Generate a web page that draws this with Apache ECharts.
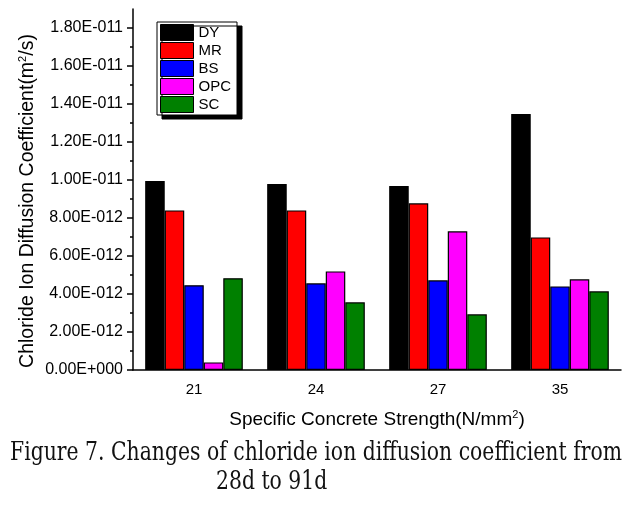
<!DOCTYPE html>
<html>
<head>
<meta charset="utf-8">
<script src="https://cdn.jsdelivr.net/npm/echarts@6/dist/echarts.min.js"></script>
<style>html,body{margin:0;padding:0;background:#fff}#c{width:632px;height:508px}</style>
</head>
<body>
<div id="c"></div>
<script>
// values in units of 1E-12 m^2/s
const categories = ['21', '24', '27', '35'];
const seriesNames = ['DY', 'MR', 'BS', 'OPC', 'SC'];
const DY  = [9.95, 9.79, 9.68, 13.47];
const MR  = [8.40, 8.40, 8.77, 6.98];
const BS  = [4.46, 4.56, 4.72, 4.40];
const OPC = [0.40, 5.19, 7.30, 4.77];
const SC  = [4.83, 3.56, 2.93, 4.14];
const yTickValues = [0, 2, 4, 6, 8, 10, 12, 14, 16, 18];
const colors = ['#000000', '#ff0000', '#0000ff', '#ff00ff', '#008000'];
const captionLines = ['Figure 7. Changes of chloride ion diffusion coefficient from', '28d to 91d'];

const SANS = '"Liberation Sans", Arial, sans-serif';

function fmtE(v) {
  if (v === 0) return '0.00E+000';
  const e = Math.floor(Math.log10(v) + 1e-9);
  const m = v / Math.pow(10, e);
  const ex = e - 12;
  const sign = ex < 0 ? '-' : '+';
  return m.toFixed(2) + 'E' + sign + String(Math.abs(ex)).padStart(3, '0');
}

const capFont = '26px "DejaVu Serif"';
const cv = document.createElement('canvas').getContext('2d');
cv.font = capFont;
const capScale = 612 / cv.measureText(captionLines[0]).width;

const chart = echarts.init(document.getElementById('c'), null, {renderer: 'canvas'});
const values = [DY, MR, BS, OPC, SC];
const option = {
  animation: false,
  backgroundColor: '#fff',
  textStyle: {fontFamily: SANS},
  grid: {left: 133, right: 11, top: 9, bottom: 138, containLabel: false},
  legend: {
    orient: 'vertical', left: 157, top: 22,
    itemWidth: 33, itemHeight: 16, itemGap: 1,
    padding: [2, 6, 2, 3],
    backgroundColor: '#fff', borderColor: '#000', borderWidth: 1, borderRadius: 0,
    shadowColor: '#000', shadowBlur: 0, shadowOffsetX: 5, shadowOffsetY: 4,
    textStyle: {fontSize: 15, lineHeight: 16, color: '#000', fontFamily: SANS, padding: [0, 0, 0, 0]},
    itemStyle: {borderColor: '#000', borderWidth: 1},
    icon: 'rect',
    data: seriesNames
  },
  xAxis: [{
    type: 'category', data: categories, position: 'bottom',
    axisLine: {lineStyle: {color: '#000', width: 1.5}},
    axisTick: {alignWithLabel: true, length: 6, lineStyle: {color: '#000', width: 1.5}},
    axisLabel: {fontSize: 15, color: '#000', margin: 12},
    name: '{a|Specific Concrete Strength(N/mm}{s|2}{a|)}',
    nameLocation: 'middle', nameGap: 39,
    nameTextStyle: {rich: {a: {fontSize: 19, color: '#000', fontFamily: SANS}, s: {fontSize: 11, color: '#000', fontFamily: SANS, verticalAlign: 'top', padding: [0, 0, 11, 0]}}}
  }, {
    type: 'category', data: categories, position: 'bottom',
    axisLine: {show: false},
    axisTick: {length: 3, lineStyle: {color: '#000', width: 1.5}},
    axisLabel: {show: false}
  }],
  yAxis: {
    type: 'value', min: 0, max: 19, interval: 2,
    axisLine: {show: true, lineStyle: {color: '#000', width: 1.5}},
    axisTick: {show: true, length: 6, customValues: yTickValues, lineStyle: {color: '#000', width: 1.5}},
    minorTick: {show: true, splitNumber: 2, length: 3, lineStyle: {color: '#000', width: 1.5}},
    splitLine: {show: false},
    axisLabel: {fontSize: 16, color: '#000', margin: 10, customValues: yTickValues, formatter: fmtE}
  },
  series: seriesNames.map((n, i) => ({
    name: n, type: 'bar', data: values[i],
    xAxisIndex: 0,
    barGap: '0%', barCategoryGap: '20%',
    itemStyle: {color: colors[i], borderColor: '#000', borderWidth: 1.2}
  })),
  graphic: [
    {
      type: 'text', x: 28, y: 201, rotation: Math.PI / 2,
      style: {
        text: '{a|Chloride Ion Diffusion Coefficient(m}{s|2}{a|/s)}',
        align: 'center', verticalAlign: 'middle',
        rich: {a: {fontSize: 19.5, fill: '#000', fontFamily: SANS}, s: {fontSize: 11, fill: '#000', fontFamily: SANS, padding: [0, 0, 11, 0]}}
      }
    },
    {
      type: 'text', x: 10, y: 453, scaleX: capScale, originX: 0,
      style: {text: captionLines[0], font: capFont, fill: '#111', align: 'left', verticalAlign: 'middle'}
    },
    {
      type: 'text', x: 216, y: 482, scaleX: capScale, originX: 0,
      style: {text: captionLines[1], font: capFont, fill: '#111', align: 'left', verticalAlign: 'middle'}
    }
  ]
};
chart.setOption(option);
</script>
</body>
</html>
